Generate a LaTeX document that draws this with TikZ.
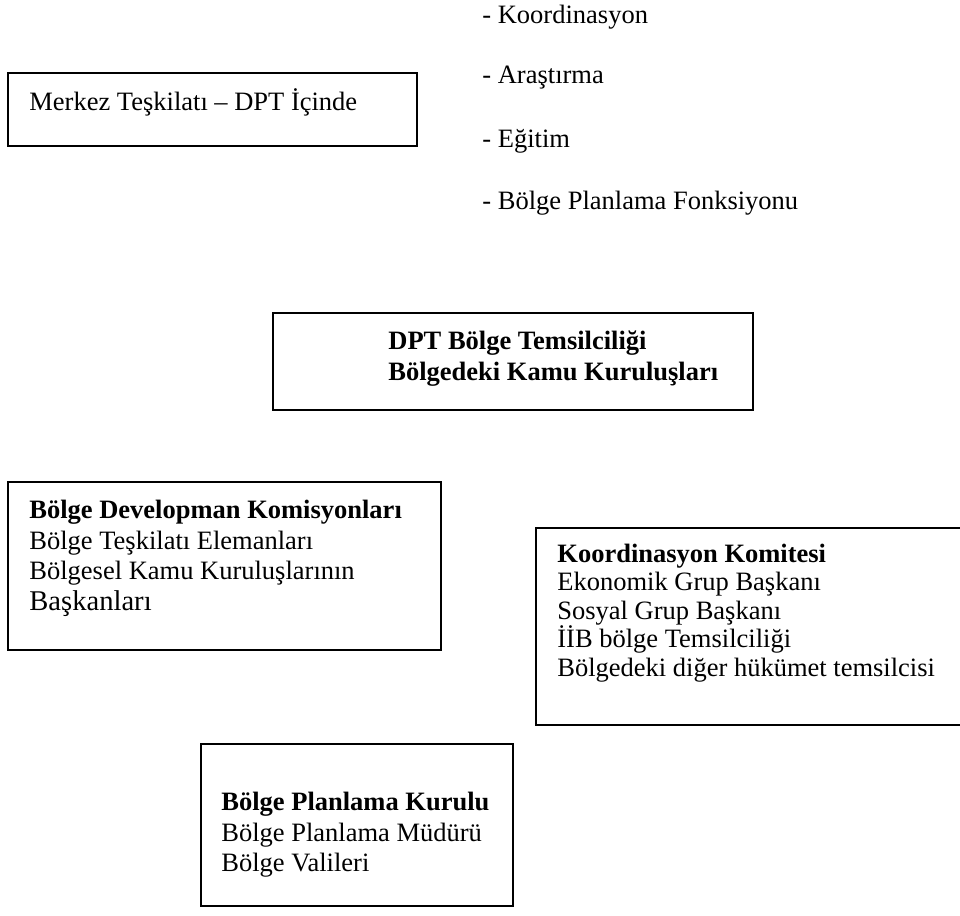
\documentclass[tikz,border=0pt]{standalone}
\usepackage{fontspec}
\setmainfont{Liberation Serif}
\usetikzlibrary{fit}
\tikzset{
  box/.style={draw, line width=1pt, inner sep=0pt},
  txt/.style={inner sep=0pt, anchor=north west, align=left, font=\fontsize{13.25}{15.3}\selectfont},
  txtb/.style={txt, font=\fontsize{13.25}{15.3}\selectfont\bfseries},
}
\newcommand{\fl}{\rule{0pt}{12pt}}
\begin{document}
\begin{tikzpicture}[x=0.5pt,y=-0.5pt]
\clip (0,0) rectangle (960,916);
% list
\node[txt] (l1) at (482,-1) {\fl- Koordinasyon};
\node[txt] (l2) at (482,59) {\fl- Araştırma};
\node[txt] (l3) at (482,123) {\fl- Eğitim};
\node[txt] (l4) at (482,185) {\fl- Bölge Planlama Fonksiyonu};
% box 1
\node[box, fit={(8,73) (417,146)}] (merkez) {};
\node[txt] (merkezT) at (29,86) {\fl Merkez Teşkilatı – DPT İçinde};
% box 2
\node[box, fit={(273,313) (753,410)}] (dpt) {};
\node[txtb] (dptT) at (388,325) {\fl DPT Bölge Temsilciliği\\Bölgedeki Kamu Kuruluşları};
% box 3
\node[box, fit={(8,482) (441,650)}] (bdk) {};
\node[txt] (bdkT) at (29,494) {\fl\textbf{Bölge Developman Komisyonları}\\Bölge Teşkilatı Elemanları\\Bölgesel Kamu Kuruluşlarının\\{\fontsize{14.3}{15.3}\selectfont Başkanları}};
% box 4
\node[box, fit={(536,528) (990,725)}] (kk) {};
\node[txt, font=\fontsize{13.25}{14.2}\selectfont] (kkT) at (557,538) {\fl\textbf{Koordinasyon Komitesi}\\Ekonomik Grup Başkanı\\Sosyal Grup Başkanı\\İİB bölge Temsilciliği\\Bölgedeki diğer hükümet temsilcisi};
% box 5
\node[box, fit={(201,744) (513,906)}] (bpk) {};
\node[txt] (bpkT) at (221,786) {\fl\textbf{Bölge Planlama Kurulu}\\Bölge Planlama Müdürü\\Bölge Valileri};
\end{tikzpicture}
\end{document}
